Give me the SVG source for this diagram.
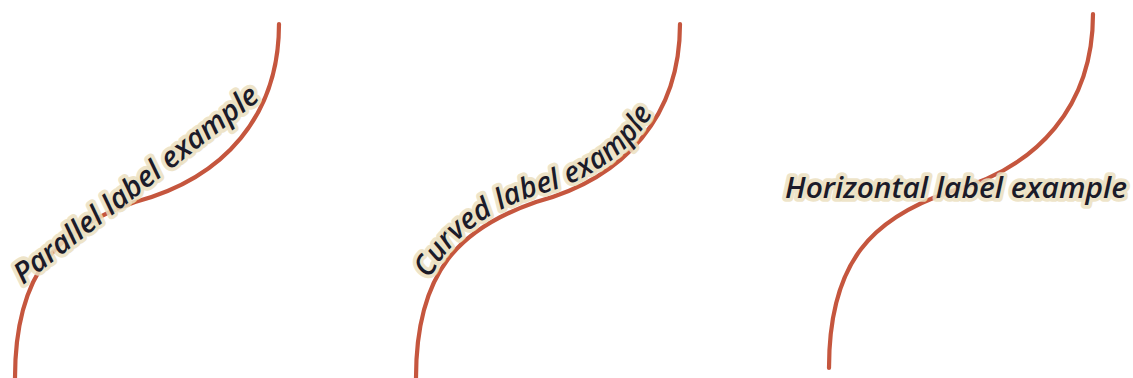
<svg xmlns="http://www.w3.org/2000/svg" width="1133" height="378" viewBox="0 0 1133 378">
  <defs>
    <style>
      .line { fill: none; stroke: #c5563e; stroke-width: 4.2; stroke-linecap: round; stroke-linejoin: round; }
      .lbl { font-family: "Open Sans", "Noto Sans", "DejaVu Sans", sans-serif; font-style: italic; font-weight: 600; font-size: 29px; fill: #1b1b29; stroke: #ebe0c0; stroke-opacity: 0.85; stroke-width: 7.5; stroke-linejoin: round; paint-order: stroke; }
    </style>
    <path id="curvedPath" d="M410,378 C410,270 459,222 534,196 C624,172 674,115 674,24"/>
  </defs>
  <rect width="1133" height="378" fill="#ffffff"/>
  <g id="connectors">
    <path id="line-parallel" class="line" d="M15,378 C15,270 60,228 135,202 C225,178 279,115 279,24"/>
    <path id="line-curved" class="line" d="M416,378 C416,270 461,228 536,202 C626,178 680,115 680,24"/>
    <path id="line-horizontal" class="line" d="M829,368 C829,260 874,218 949,192 C1039,168 1093,105 1093,14"/>
  </g>
  <g id="label-parallel">
    <text class="lbl" transform="translate(23,285) rotate(-38)" x="0" y="0" textLength="302" lengthAdjust="spacingAndGlyphs">Parallel label example</text>
  </g>
  <g id="label-curved">
    <text class="lbl" textLength="286" lengthAdjust="spacingAndGlyphs"><textPath href="#curvedPath" startOffset="102">Curved label example</textPath></text>
  </g>
  <g id="label-horizontal">
    <text class="lbl" x="785" y="198" textLength="342" lengthAdjust="spacingAndGlyphs">Horizontal label example</text>
  </g>
</svg>
